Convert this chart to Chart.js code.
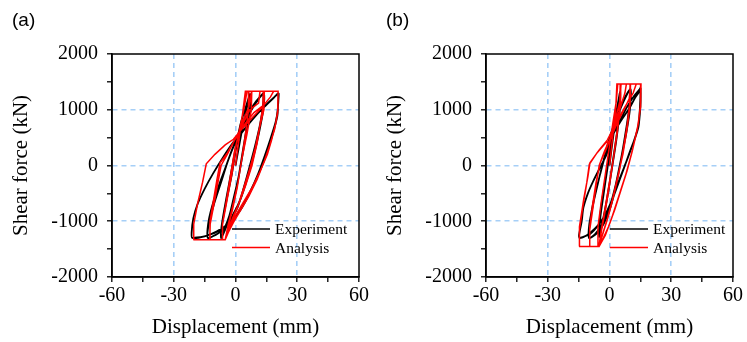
<!DOCTYPE html>
<html>
<head>
<meta charset="utf-8">
<script src="https://cdn.jsdelivr.net/npm/chart.js@4.4.0/dist/chart.umd.min.js"></script>
<style>
    html, body { margin: 0; padding: 0; background: #fff; }
    #wrap { position: relative; width: 747px; height: 342px; }
    .painel { position: absolute; top: 0; height: 342px; }
</style>
</head>
<body>
<div id="wrap">
    <div class="painel" style="left:0;width:374px"><canvas id="graficoA"></canvas></div>
    <div class="painel" style="left:374px;width:373px"><canvas id="graficoB"></canvas></div>
</div>
<script>
// rótulos dos eixos
const dispTicks = [-60, -30, 0, 30, 60];
const forcaTicks = [-2000, -1000, 0, 1000, 2000];
const nomes = ['Experiment', 'Analysis'];

// (a) experimento: [deslocamento mm, força kN]
const expA = [
    [0, 0], [1.5, 300], [3, 600], [5, 950], [6.5, 1200], [7, 1280],
    [6.8, 1050], [5.5, 700], [3.5, 250], [1.5, -200], [-1, -600], [-3, -900], [-5.5, -1150], [-7, -1300],
    [-6.8, -1100], [-5.5, -800], [-3.5, -400], [-1.5, 0], [0.5, 400], [2.5, 750], [5, 1050], [7.2, 1280],
    [6.9, 1000], [5, 550], [3, 100], [0.5, -400], [-2, -800], [-4.5, -1100], [-7, -1300],
    [-6.5, -1050], [-4.5, -650], [-2, -200], [0.5, 350], [3, 650], [6.5, 950], [10, 1150], [12.5, 1260], [13.5, 1290],
    [13.3, 1050], [12, 750], [9.5, 350], [7, 0], [4, -400], [1, -750], [-3, -1000], [-7, -1180], [-11, -1270], [-13.5, -1300],
    [-13.3, -1050], [-11.5, -750], [-8.5, -400], [-5, -50], [-1, 350], [3, 650], [7, 950], [11, 1180], [13.8, 1290],
    [13.5, 1000], [11.5, 600], [9, 200], [6, -200], [2.5, -600], [-1.5, -900], [-6, -1150], [-10.5, -1260], [-13.5, -1300],
    [-13, -1050], [-10.5, -700], [-7, -300], [-3.5, 100], [0.5, 450], [5, 680], [10, 900], [14.5, 1080], [18, 1200], [20.5, 1280], [21, 1290],
    [20.7, 1100], [20.3, 880], [18.5, 620], [16, 320], [13.5, 50], [10, -250], [6, -560], [2, -820], [-3, -1030], [-9, -1180], [-15, -1270], [-21, -1300],
    [-21.3, -1200], [-20.5, -950], [-18.5, -700], [-15, -420], [-11, -150], [-6, 150], [-1, 420], [4, 640], [9, 860], [14, 1050], [18.5, 1210], [20.8, 1290],
    [20.5, 1000], [19.5, 780], [17, 480], [14, 150], [11, -150], [7, -480], [3, -760], [-2, -1000], [-8, -1170], [-14, -1260], [-20.5, -1300]
];

// (a) análise
const anaA = [
    [0, 0], [1.8, 500], [3.5, 950], [4.8, 1330], [6.5, 1330],
    [6.3, 1000], [4.8, 550], [3, 100], [1, -350], [-1.5, -750], [-3.5, -1050], [-5, -1330], [-6.5, -1330],
    [-6.3, -1050], [-4.5, -650], [-2.5, -200], [-0.5, 250], [2, 650], [4, 1000], [5.6, 1330], [7.9, 1330],
    [7.7, 1000], [5.5, 550], [3, 100], [0.8, -400], [-1.5, -800], [-3.5, -1100], [-5, -1330], [-6.5, -1330],
    [-6.3, -1050], [-4, -600], [-1.5, -100], [0.5, 400], [3, 750], [6.5, 1050], [7.8, 1330], [13.5, 1330],
    [13.3, 1050], [12, 750], [10.5, 400], [8, 0], [5, -350], [2, -650], [-1, -900], [-3.5, -1150], [-5, -1330], [-12.5, -1330],
    [-12.3, -1050], [-10.5, -700], [-8.5, -300], [-7, 0], [-4, 200], [-0.5, 450], [3, 700], [7, 1000], [11.2, 1120], [11.9, 1330], [14, 1330],
    [13.8, 1000], [11.5, 650], [9.5, 300], [7, -50], [4, -400], [1, -750], [-2, -1000], [-4, -1200], [-5, -1330], [-12.5, -1330],
    [-12.4, -1000], [-10.8, -650], [-9, -250], [-7.5, 50], [-4, 220], [-0.5, 450], [4, 720], [9, 950], [13.5, 1080], [14, 1330], [20.7, 1330],
    [20.6, 1000], [19.5, 750], [17.5, 450], [15.5, 200], [12, -100], [8, -400], [4, -650], [0, -900], [-3, -1120], [-5, -1330], [-20.5, -1330],
    [-20.3, -1050], [-18.5, -700], [-16, -300], [-14.2, 30], [-10, 200], [-5, 370], [-1, 470], [3, 650], [8, 850], [13, 1050], [17, 1230], [18.5, 1330], [20.7, 1330],
    [20.5, 950], [19, 650], [16.5, 350], [14, 80], [10.5, -250], [6.5, -550], [2.5, -800], [-1, -1020], [-3.5, -1200], [-5, -1330], [-13, -1330]
];

// (b) experimento
const expB = [
    [0, 0], [1, 300], [2.5, 700], [4, 1050], [5, 1300],
    [4.8, 1000], [3.5, 550], [1.5, 50], [-0.5, -450], [-2.5, -850], [-4, -1100], [-5, -1280],
    [-4.8, -1000], [-3.5, -600], [-1.5, -150], [0.5, 350], [2, 700], [3.5, 1000], [5.2, 1320],
    [4.9, 950], [3.3, 450], [1.2, -50], [-1, -550], [-3, -950], [-5, -1280],
    [-4.5, -950], [-3, -550], [-1, -50], [1, 450], [3.5, 850], [6.5, 1150], [9, 1320], [10, 1360],
    [9.8, 1100], [8.5, 750], [6.5, 300], [4.5, -100], [2, -550], [-1, -900], [-4.5, -1150], [-8, -1270], [-10, -1300],
    [-9.8, -1050], [-8, -700], [-5.5, -300], [-2.5, 150], [0.5, 550], [4, 900], [7.5, 1200], [10.2, 1370],
    [9.9, 1000], [8, 550], [5.5, 100], [3, -350], [0, -750], [-3.5, -1050], [-7, -1230], [-10, -1300],
    [-9.5, -1000], [-7.5, -600], [-4.5, -150], [-1.5, 250], [1.8, 560], [5, 800], [8.5, 1050], [12, 1250], [14.5, 1360], [15, 1390],
    [15.1, 1150], [14.8, 950], [14, 680], [12, 450], [10, 260], [7.5, 0], [5, -250], [2.5, -500], [0, -720], [-3, -950], [-7, -1130], [-11, -1250], [-14.5, -1300],
    [-14.8, -1250], [-13.5, -1000], [-12.7, -760], [-10.5, -500], [-7.9, -280], [-4.5, -30], [-1.4, 200], [1.8, 560], [5.5, 800], [9.9, 1040], [12.5, 1220], [14.8, 1340], [15.1, 1380],
    [14.8, 1050], [14, 700], [11.5, 400], [8.5, 100], [5, -230], [2, -550], [-1, -800], [-5, -1050], [-9.5, -1230], [-14.5, -1300]
];

// (b) análise
const anaB = [
    [0, 0], [1.5, 500], [3, 1000], [3.6, 1460], [5.2, 1460],
    [5, 1100], [3.8, 650], [2, 150], [0, -350], [-2, -800], [-3.8, -1150], [-5.1, -1455], [-5.8, -1455],
    [-5.6, -1100], [-4, -650], [-2, -150], [0, 350], [1.8, 800], [3.3, 1150], [4, 1460], [5.5, 1460],
    [5.3, 1100], [3.8, 600], [1.8, 100], [-0.5, -400], [-2.5, -850], [-4, -1150], [-5.1, -1455], [-9.8, -1455],
    [-9.6, -1150], [-8, -750], [-6.5, -350], [-5, 0], [-2.5, 250], [0.5, 500], [3, 850], [5, 1150], [5.6, 1460], [10, 1460],
    [9.8, 1100], [8.5, 700], [6.5, 250], [4.5, -150], [2, -550], [-0.5, -900], [-3, -1200], [-5.1, -1455], [-9.8, -1455],
    [-9.6, -1100], [-8.2, -700], [-6.5, -300], [-4.5, 50], [-1.5, 300], [1.5, 600], [4.5, 950], [7.5, 1300], [8.2, 1460], [10.2, 1460],
    [10, 1100], [8.5, 650], [6.5, 200], [4, -200], [1.5, -600], [-1, -950], [-3.5, -1250], [-5.1, -1455], [-14.8, -1455],
    [-14.6, -1150], [-13, -750], [-11, -300], [-9.8, 20], [-6, 230], [-2, 400], [0.2, 440], [3, 700], [7, 1000], [9.6, 1200], [10.2, 1460], [15.3, 1460],
    [15.1, 1100], [14, 750], [12.5, 500], [11, 250], [8.5, -100], [5.5, -450], [2.5, -800], [-0.5, -1100], [-3, -1300], [-5.1, -1455], [-14.8, -1455],
    [-14.6, -1100], [-12.5, -600], [-10.5, -200], [-9.5, 50], [-5, 280], [-1, 460], [3, 750], [7.5, 1050], [11.5, 1300], [13, 1460], [15.3, 1460],
    [15.1, 1050], [13.5, 650], [11, 250], [8, -150], [4.5, -550], [1, -950], [-2, -1250], [-5.1, -1455]
];

const serif = '"Liberation Serif", "Times New Roman", serif';

function pontos(lista) {
    return lista.map((p) => ({x: p[0], y: p[1]}));
}

// moldura, rótulo (a)/(b) e legenda dentro da área
const moldura = {
    id: 'moldura',
    afterDraw(chart, args, opts) {
        const ctx = chart.ctx;
        const a = chart.chartArea;
        ctx.save();
        ctx.strokeStyle = '#000';
        ctx.lineWidth = 1.5;
        ctx.strokeRect(a.left, a.top, a.right - a.left, a.bottom - a.top);

        ctx.fillStyle = '#000';
        ctx.textAlign = 'left';
        ctx.textBaseline = 'alphabetic';
        ctx.font = '19px "Liberation Sans", Arial, sans-serif';
        ctx.fillText(opts.rotulo, 12, 26);

        ctx.font = '15.5px ' + serif;
        ctx.textBaseline = 'middle';
        chart.data.datasets.forEach((ds, i) => {
            let x0 = a.left + opts.legendaX;
            let y = a.top + 175 + i * 18.5;
            ctx.strokeStyle = ds.borderColor;
            ctx.lineWidth = 1.6;
            ctx.beginPath();
            ctx.moveTo(x0, y);
            ctx.lineTo(x0 + 38, y);
            ctx.stroke();
            ctx.fillText(ds.label, x0 + 43, y + 1);
        });
        ctx.restore();
    }
};

function criarGrafico(id, exp, ana, rotulo, legendaX, padDireita) {
    return new Chart(document.getElementById(id), {
        type: 'scatter',
        data: {
            datasets: [
                {
                    label: nomes[0],
                    data: pontos(exp),
                    showLine: true,
                    borderColor: '#000000',
                    borderWidth: 1.8,
                    pointRadius: 0,
                    tension: 0.25,
                    order: 2
                },
                {
                    label: nomes[1],
                    data: pontos(ana),
                    showLine: true,
                    borderColor: '#ff0000',
                    borderWidth: 1.5,
                    pointRadius: 0,
                    tension: 0,
                    order: 1
                }
            ]
        },
        options: {
            responsive: true,
            maintainAspectRatio: false,
            animation: false,
            layout: {padding: {left: 0, right: padDireita, top: 54, bottom: 0}},
            plugins: {
                legend: {display: false},
                tooltip: {enabled: false},
                moldura: {rotulo: rotulo, legendaX: legendaX}
            },
            scales: {
                x: {
                    type: 'linear',
                    min: -60,
                    max: 60,
                    afterFit: (scale) => { scale.height = 65; },
                    ticks: {
                        stepSize: 15,
                        color: '#000',
                        padding: 2,
                        maxRotation: 0,
                        minRotation: 0,
                        autoSkip: false,
                        font: {family: serif, size: 20},
                        callback: (v) => dispTicks.includes(v) ? v : ''
                    },
                    grid: {
                        color: (c) => (c.tick && c.tick.value % 30 === 0 && Math.abs(c.tick.value) !== 60) ? '#a6cff7' : 'rgba(0,0,0,0)',
                        lineWidth: 1.6,
                        tickColor: '#000',
                        tickLength: 5,
                        tickWidth: 1.3
                    },
                    border: {color: '#000', width: 1.5, dash: [5, 4]},
                    title: {
                        display: true,
                        text: 'Displacement (mm)',
                        color: '#000',
                        font: {family: serif, size: 21},
                        padding: {top: 0, bottom: 2}
                    }
                },
                y: {
                    type: 'linear',
                    min: -2000,
                    max: 2000,
                    afterFit: (scale) => { scale.width = 112; },
                    ticks: {
                        stepSize: 500,
                        color: '#000',
                        padding: 9,
                        autoSkip: false,
                        font: {family: serif, size: 20},
                        callback: (v) => forcaTicks.includes(v) ? v : ''
                    },
                    grid: {
                        color: (c) => (c.tick && c.tick.value % 1000 === 0 && Math.abs(c.tick.value) !== 2000) ? '#a6cff7' : 'rgba(0,0,0,0)',
                        lineWidth: 1.6,
                        tickColor: '#000',
                        tickLength: 5,
                        tickWidth: 1.3
                    },
                    border: {color: '#000', width: 1.5, dash: [5, 4]},
                    title: {
                        display: true,
                        text: 'Shear force (kN)',
                        color: '#000',
                        font: {family: serif, size: 21},
                        padding: {top: 9, bottom: 0}
                    }
                }
            }
        },
        plugins: [moldura]
    });
}

criarGrafico('graficoA', expA, anaA, '(a)', 120, 15);
criarGrafico('graficoB', expB, anaB, '(b)', 124, 14);
</script>
</body>
</html>
